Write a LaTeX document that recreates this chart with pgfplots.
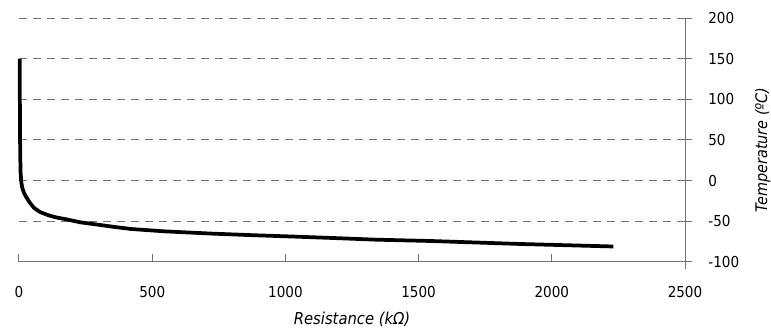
\documentclass[border=0pt]{standalone}
\usepackage{fontspec}
\setmainfont{DejaVu Sans Condensed}
\usepackage{pgfplots}
\pgfplotsset{compat=1.18}
\begin{document}
\begin{tikzpicture}
\begin{axis}[
  scale only axis,
  width=499.5pt, height=182.55pt,
  xmin=0, xmax=2500, ymin=-100, ymax=200,
  xtick={0,500,1000,1500,2000,2500},
  ytick={-100,-50,0,50,100,150,200},
  axis x line*=bottom, axis y line*=right,
  separate axis lines,
  x axis line style={draw=gray!90!black, line width=0.75pt, -},
  y axis line style={draw=gray!90!black, line width=0.75pt, -, shorten <=-5.5pt},
  tick align=inside,
  major tick length=5.5pt,
  xtick style={draw=gray!90!black, line width=0.75pt},
  ytick style={draw=gray!90!black, line width=0.75pt, xshift=5.5pt},
  ymajorgrids,
  grid style={draw=gray!90!black, line width=0.75pt, dash pattern=on 6pt off 4.5pt},
  /pgf/number format/assume math mode=true,
  /pgf/number format/1000 sep={},
  tick label style={font=\fontsize{11.3}{13}\selectfont, text=black},
  xticklabel style={yshift=-15pt},
  yticklabel style={xshift=14pt},
  xlabel={Resistance (kΩ)},
  ylabel={Temperature (ºC)},
  xlabel style={font=\itshape\fontsize{12.3}{14}\selectfont, at={(axis description cs:0.5,0)}, anchor=base, yshift=-47.3pt},
  ylabel style={font=\itshape\fontsize{12}{14}\selectfont, at={(axis description cs:1,0.459)}, anchor=north, inner sep=0pt, yshift=-52.3pt},
  clip=false,
]
\addplot[black, line width=2.8pt, line join=round, line cap=butt] coordinates {
(3,150) (3,120) (3.5,80) (4,50) (5,25) (6,10) (8,0) (10,-5) (14,-11) (20,-16)
(26,-19.7) (40,-27) (57,-34) (80,-39) (112,-43) (140,-45.5) (173,-47.5)
(230,-51.5) (298,-54.5) (360,-57.3) (423,-59.8) (550,-62.7) (729,-65.5)
(880,-67.4) (1042,-69.2) (1200,-71.1) (1340,-72.9) (1543,-74.5) (1881,-78.2) (2231,-81.3)
};
\coordinate (sw) at (rel axis cs:0,0);
\coordinate (ne) at (rel axis cs:1,1);
\end{axis}
\pgfresetboundingbox
\path ([xshift=-14.25pt,yshift=-52pt]sw) rectangle ([xshift=64.5pt,yshift=13.7pt]ne);
\end{tikzpicture}
\end{document}
